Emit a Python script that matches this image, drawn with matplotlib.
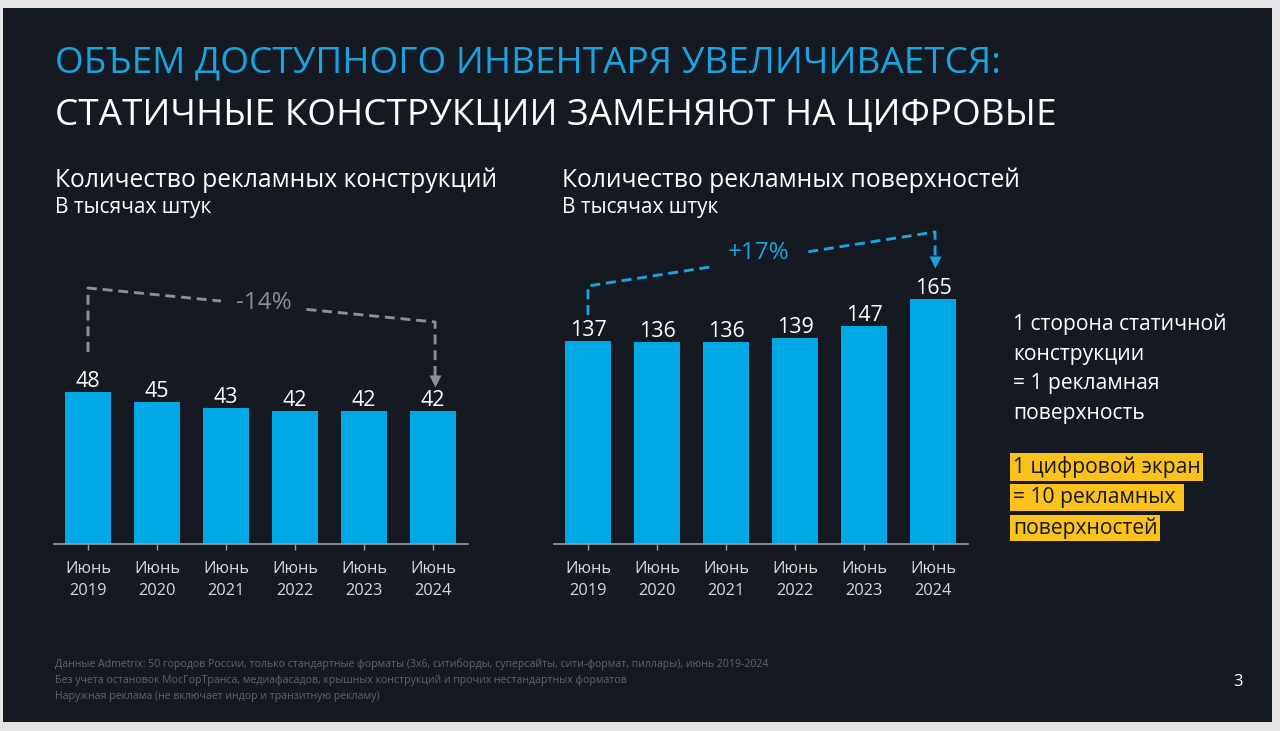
import matplotlib
matplotlib.use("Agg")
import matplotlib.pyplot as plt
from matplotlib.patches import Rectangle

plt.rcParams['font.family'] = ['Open Sans', 'DejaVu Sans']

# ---- data ----
categories = ["Июнь\n2019", "Июнь\n2020", "Июнь\n2021", "Июнь\n2022", "Июнь\n2023", "Июнь\n2024"]
constructions = [48, 45, 43, 42, 42, 42]
surfaces = [137, 136, 136, 139, 147, 165]
change_left = "-14%"
change_right = "+17%"

BG = "#151922"
BLUE = "#00a8e6"
TITLE_BLUE = "#1ba3df"
GRAY = "#8c8f94"
W, H = 1280, 731

fig = plt.figure(figsize=(W / 100, H / 100), dpi=100)
fig.patch.set_facecolor("#e4e4e4")
fig.patches.append(Rectangle((3 / W, 1 - 722 / H), 1269 / W, 714 / H,
                             transform=fig.transFigure, facecolor=BG, edgecolor="none", zorder=-10))


def px(x, y):
    return x / W, 1 - y / H


def tx(x, y, s, **kw):
    fig.text(*px(x, y), s, **kw)


# titles
tx(55, 63, "ОБЪЕМ ДОСТУПНОГО ИНВЕНТАРЯ УВЕЛИЧИВАЕТСЯ:", color=TITLE_BLUE, fontsize=26.6, va="center")
tx(55, 116, "СТАТИЧНЫЕ КОНСТРУКЦИИ ЗАМЕНЯЮТ НА ЦИФРОВЫЕ", color="white", fontsize=26.6, va="center")

tx(55, 180, "Количество рекламных конструкций", color="white", fontsize=17.7, va="center")
tx(55, 208, "В тысячах штук", color="white", fontsize=15, va="center")
tx(562, 180, "Количество рекламных поверхностей", color="white", fontsize=17.7, va="center")
tx(562, 208, "В тысячах штук", color="white", fontsize=15, va="center")


def make_axes(left_px, px_per_unit, values):
    top_px, base_px = 200, 544
    ax = fig.add_axes([left_px / W, 1 - base_px / H, 414 / W, (base_px - top_px) / H])
    ax.set_facecolor("none")
    x = list(range(len(values)))
    ax.bar(x, values, width=0.67, color=BLUE, zorder=2)
    ax.set_xlim(-0.5, 5.5)
    ax.set_ylim(0, (base_px - top_px) / px_per_unit)
    for s in ["top", "right", "left"]:
        ax.spines[s].set_visible(False)
    ax.spines["bottom"].set_color("#9a9da2")
    ax.spines["bottom"].set_linewidth(1.2)
    ax.set_yticks([])
    ax.set_xticks(x)
    ax.set_xticklabels(categories, color="#d8d8d8", fontsize=11.8, linespacing=1.5)
    ax.tick_params(axis="x", colors="#9a9da2", length=4, width=1, pad=8, labelcolor="#d8d8d8")
    for xi, v in zip(x, values):
        ax.text(xi, v, f"{v}", ha="center", va="bottom", color="white", fontsize=15.5)
    return ax


axL = make_axes(53.5, 3.16, constructions)
axR = make_axes(553.5, 1.485, surfaces)


def bracket(ax, x0, y0a, y0b, x1, y1b, tip, color, label, lx, ly, lcolor, fs):
    dash = dict(color=color, lw=2.1, ls=(0, (3.4, 2.0)), clip_on=False, zorder=3,
                solid_capstyle="butt", dash_capstyle="butt")
    ax.plot([x0, x0, x1, x1], [y0a, y0b, y1b, tip], **dash)
    ax.plot([x1], [tip], marker="v", ms=8.5, color=color, clip_on=False, zorder=4, mec="none")
    ax.text(lx, ly, label, ha="center", va="center", color=lcolor, fontsize=fs, zorder=5,
            bbox=dict(boxstyle="square,pad=0.6", fc=BG, ec="none"))


# left bracket (data units)
bracket(axL, 0, (544 - 352) / 3.16, (544 - 288) / 3.16, 5.03, (544 - 322) / 3.16,
        (544 - 381) / 3.16, GRAY, change_left, 2.55, (544 - 303) / 3.16, GRAY, 17.5)
# right bracket
bracket(axR, 0, (544 - 315) / 1.485, (544 - 286) / 1.485, 5.03, (544 - 232) / 1.485,
        (544 - 262) / 1.485, TITLE_BLUE, change_right, 2.48, (544 - 253) / 1.485, TITLE_BLUE, 17.5)

# right notes
note_lines = ["1 сторона статичной", "конструкции", "= 1 рекламная", "поверхность"]
for i, s in enumerate(note_lines):
    tx(1013, 324 + i * 30, s, color="white", fontsize=15.2, va="center")

hl_lines = ["1 цифровой экран", "= 10 рекламных ", "поверхностей"]
for i, s in enumerate(hl_lines):
    tx(1013, 467 + i * 30.5, s, color="#15181f", fontsize=15.2, va="center",
       bbox=dict(boxstyle="square,pad=0.12", fc="#fbc21b", ec="none"))

# footnotes
foot = ["Данные Admetrix: 50 городов России, только стандартные форматы (3х6, ситиборды, суперсайты, сити-формат, пиллары), июнь 2019-2024",
        "Без учета остановок МосГорТранса, медиафасадов, крышных конструкций и прочих нестандартных форматов",
        "Наружная реклама (не включает индор и транзитную рекламу)"]
for i, s in enumerate(foot):
    tx(55, 664 + i * 16, s, color="#60646c", fontsize=7.6, va="center")

tx(1238, 682, "3", color="white", fontsize=12, va="center", ha="center")

fig.savefig("out.png", dpi=100, facecolor=fig.get_facecolor())
